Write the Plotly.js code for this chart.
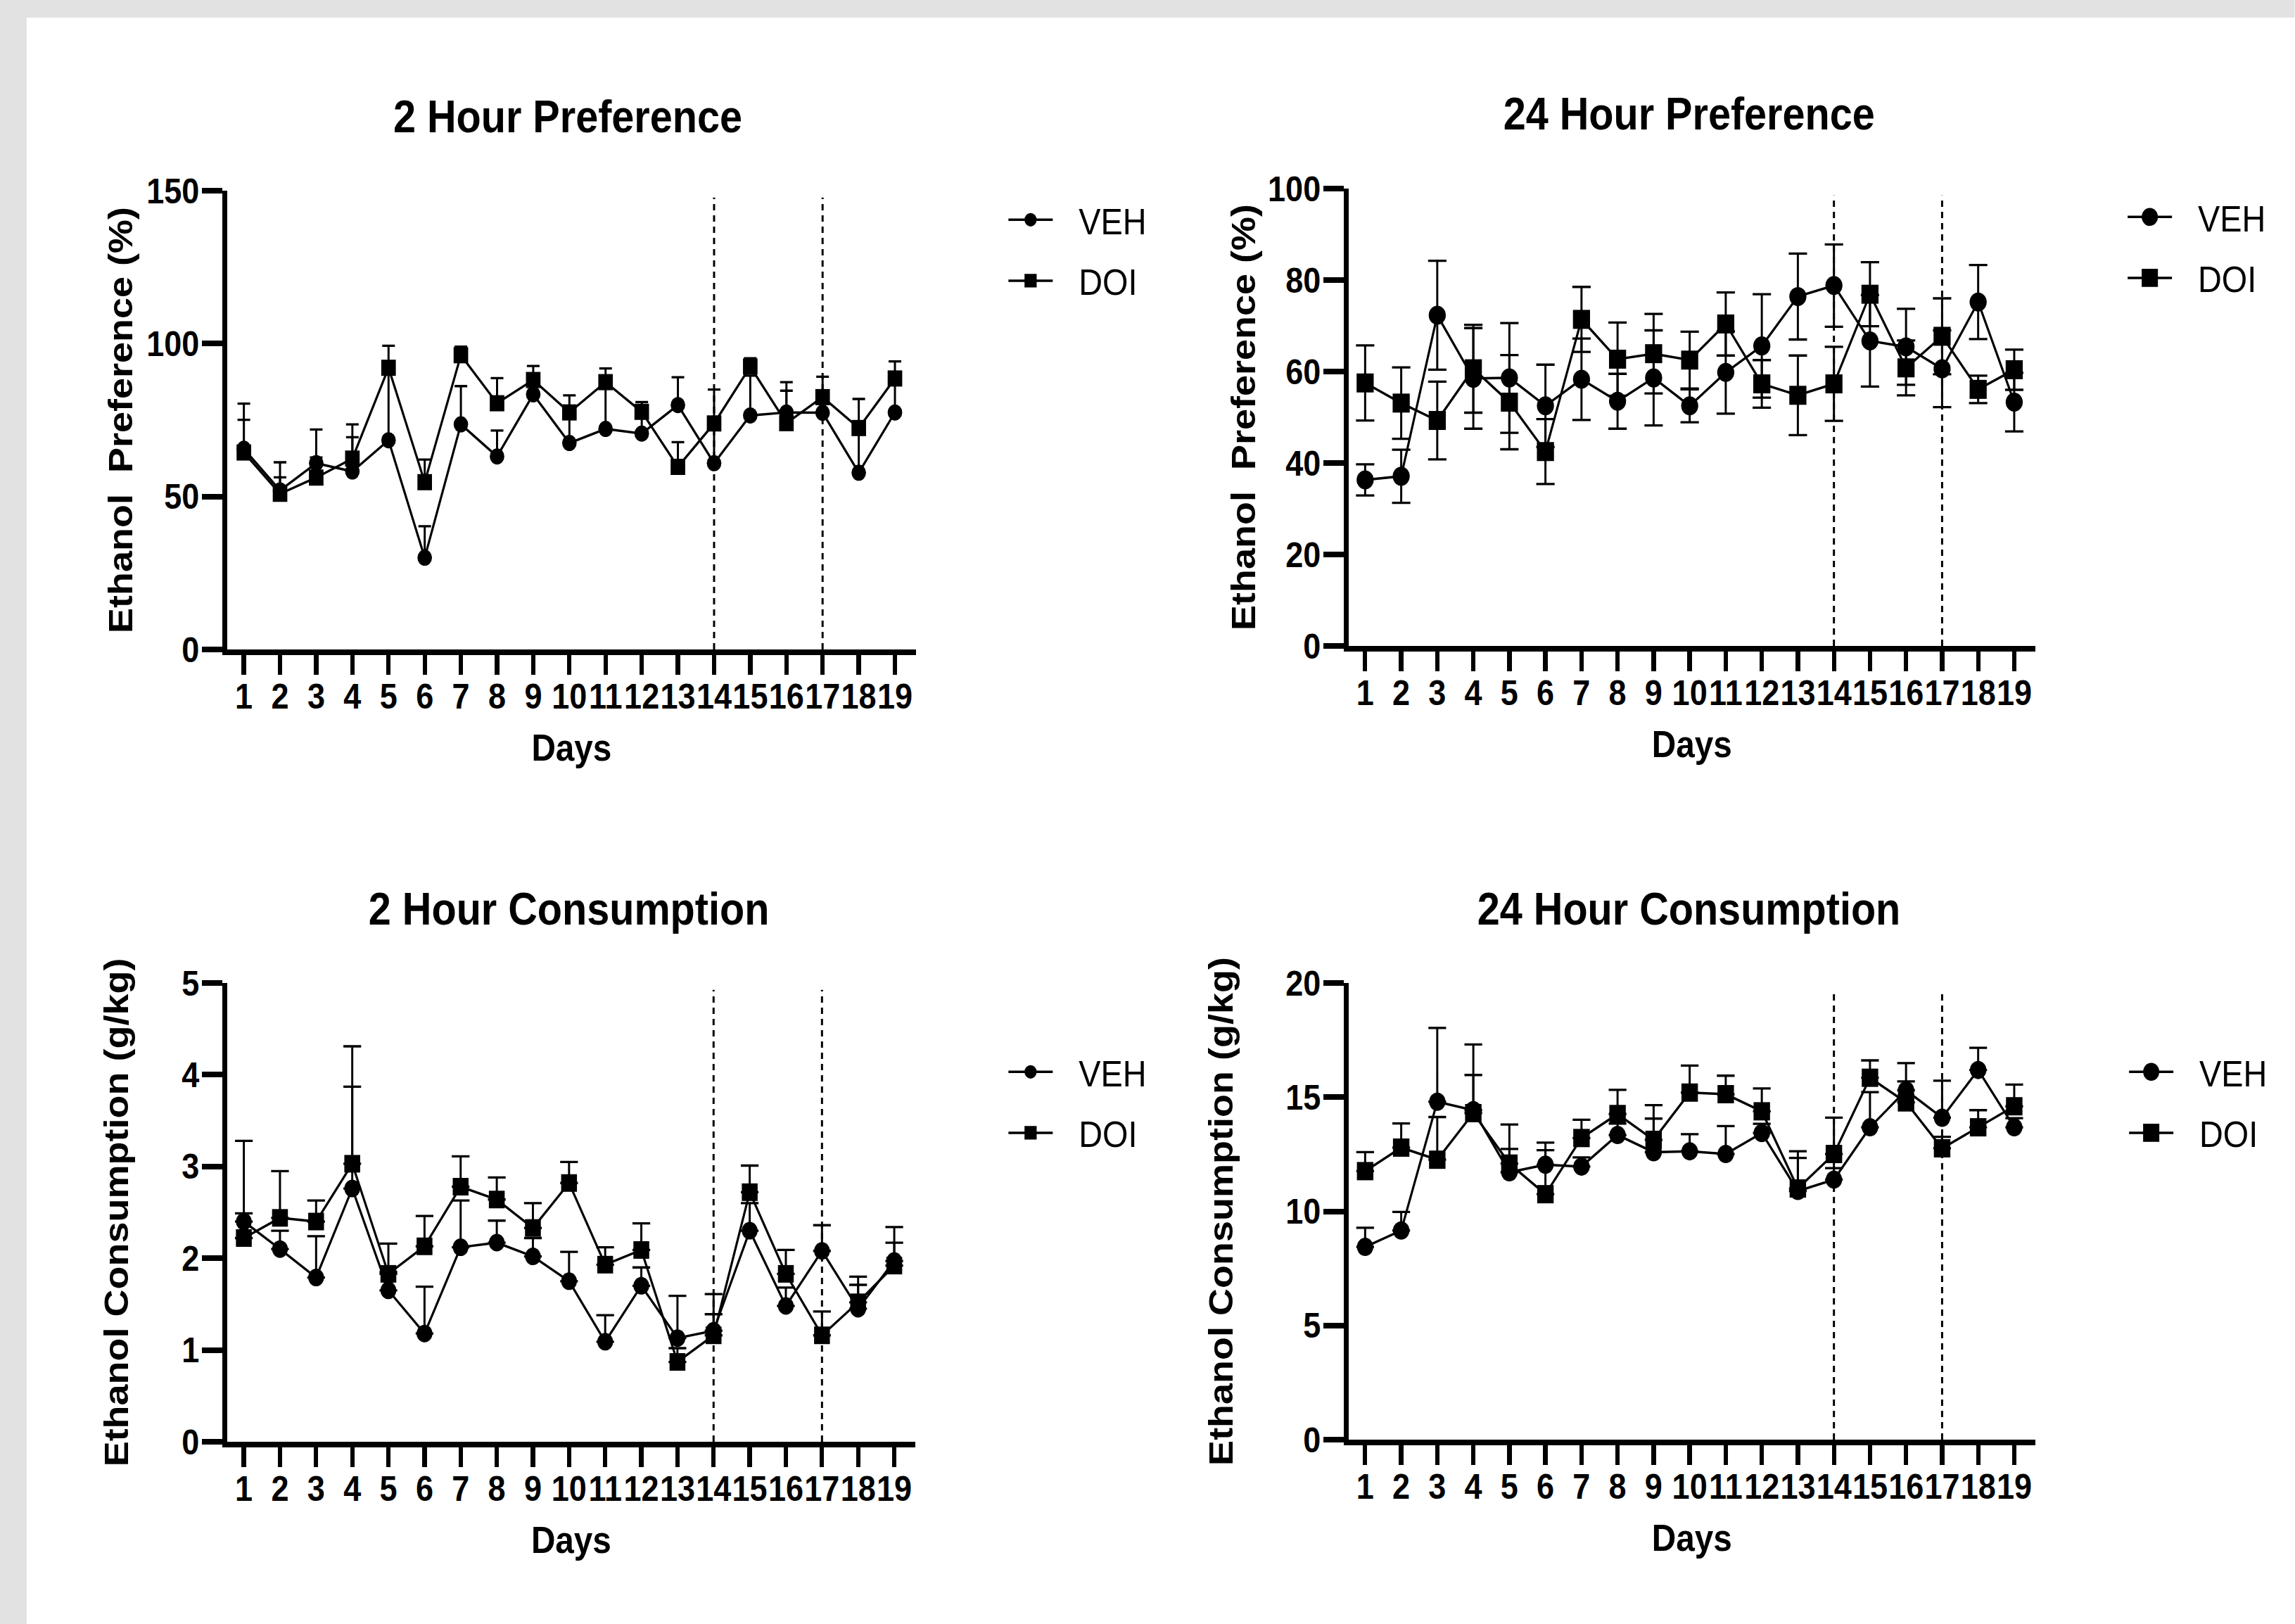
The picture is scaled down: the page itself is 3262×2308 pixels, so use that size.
<!DOCTYPE html>
<html>
<head>
<meta charset="utf-8">
<script src="https://cdn.plot.ly/plotly-3.0.1.min.js"></script>
<style>
  html, body { margin: 0; padding: 0; background: #ffffff; overflow: hidden; width: 3262px; height: 2308px; }
  #chart { height: 2308px; transform-origin: 0 0; }
</style>
</head>
<body>
<div id="chart"></div>
<script>
// ---------------- DATA ----------------
const days = [1, 2, 3, 4, 5, 6, 7, 8, 9, 10, 11, 12, 13, 14, 15, 16, 17, 18, 19];
const dayLabels = ['1', '2', '3', '4', '5', '6', '7', '8', '9', '10', '11', '12', '13', '14', '15', '16', '17', '18', '19'];
const seriesNames = ['VEH', 'DOI'];
const phaseDays = [14, 17];

// 2 Hour Preference (%), mean and upper SEM
const pref2hVeh    = [65.6, 52.0, 60.9, 58.2, 68.4, 30.0, 73.6, 63.1, 83.4, 67.5, 72.1, 70.6, 79.9, 60.9, 76.5, 77.5, 77.4, 57.8, 77.5];
const pref2hVehSem = [14.8, 4.3, 11.0, 11.2, 21.5, 10.3, 12.5, 8.5, 3.0, 8.0, 14.0, 5.0, 9.1, 12.0, 13.0, 9.9, 5.0, 14.0, 10.0];
const pref2hDoi    = [64.4, 50.9, 56.2, 62.4, 92.1, 54.7, 96.2, 80.5, 88.1, 77.5, 87.4, 77.7, 59.7, 73.9, 92.5, 74.0, 82.5, 72.4, 88.6];
const pref2hDoiSem = [10.7, 10.3, 6.6, 11.2, 7.2, 7.4, 2.8, 8.2, 4.6, 5.6, 4.5, 3.2, 8.1, 11.1, 2.7, 10.6, 6.7, 9.5, 5.6];

// 24 Hour Preference (%), mean and SEM (both directions)
const pref24hVeh    = [36.3, 37.1, 72.3, 58.5, 58.6, 52.5, 58.3, 53.5, 58.6, 52.5, 59.8, 65.6, 76.4, 78.8, 66.7, 65.4, 60.6, 75.2, 53.3];
const pref24hVehSem = [3.4, 5.8, 11.9, 11.0, 12.0, 9.0, 8.9, 6.0, 10.4, 3.6, 9.0, 11.3, 9.4, 9.0, 10.0, 8.3, 8.4, 8.1, 6.4];
const pref24hDoi    = [57.5, 53.1, 49.3, 60.6, 53.3, 42.5, 71.4, 62.7, 63.9, 62.5, 70.4, 57.3, 54.8, 57.3, 76.9, 60.8, 67.7, 56.1, 60.4];
const pref24hDoiSem = [8.2, 7.8, 8.5, 9.6, 10.3, 7.1, 7.1, 8.0, 8.7, 6.2, 6.9, 5.2, 8.7, 8.1, 7.0, 6.0, 8.3, 3.0, 4.4];

// 2 Hour Consumption (g/kg), mean and upper SEM
const cons2hVeh    = [2.40, 2.10, 1.79, 2.76, 1.65, 1.18, 2.12, 2.17, 2.02, 1.75, 1.09, 1.70, 1.13, 1.21, 2.30, 1.48, 2.08, 1.45, 1.97];
const cons2hVehSem = [0.88, 0.20, 0.45, 1.11, 0.20, 0.51, 0.51, 0.24, 0.20, 0.32, 0.29, 0.20, 0.46, 0.40, 0.30, 0.20, 0.28, 0.26, 0.20];
const cons2hDoi    = [2.22, 2.44, 2.40, 3.03, 1.83, 2.13, 2.78, 2.64, 2.33, 2.82, 1.93, 2.09, 0.87, 1.16, 2.72, 1.83, 1.16, 1.52, 1.92];
const cons2hDoiSem = [0.27, 0.51, 0.23, 1.28, 0.33, 0.33, 0.33, 0.24, 0.27, 0.23, 0.19, 0.29, 0.15, 0.23, 0.29, 0.26, 0.26, 0.28, 0.42];

// 24 Hour Consumption (g/kg), mean and upper SEM
const cons24hVeh    = [8.44, 9.16, 14.80, 14.43, 11.71, 12.04, 11.96, 13.34, 12.59, 12.63, 12.51, 13.43, 10.89, 11.39, 13.68, 15.30, 14.10, 16.19, 13.68];
const cons24hVehSem = [0.84, 0.81, 3.23, 1.54, 1.02, 0.97, 0.40, 0.50, 1.47, 0.75, 1.22, 0.40, 1.45, 0.50, 1.54, 1.19, 1.62, 0.97, 0.40];
const cons24hDoi    = [11.76, 12.79, 12.26, 14.30, 12.09, 10.75, 13.21, 14.26, 13.13, 15.20, 15.13, 14.38, 11.00, 12.51, 15.85, 14.77, 12.76, 13.68, 14.60];
const cons24hDoiSem = [0.83, 1.06, 1.87, 3.01, 1.71, 1.93, 0.80, 1.06, 1.52, 1.18, 0.81, 1.00, 1.63, 1.59, 0.76, 0.92, 0.50, 0.75, 0.95];

const panelTitles = ['2 Hour Preference', '24 Hour Preference', '2 Hour Consumption', '24 Hour Consumption'];
const yTitles = ['Ethanol  Preference (%)', 'Ethanol  Preference (%)', 'Ethanol Consumption (g/kg)', 'Ethanol Consumption (g/kg)'];
const yTicks = [[0, 50, 100, 150], [0, 20, 40, 60, 80, 100], [0, 1, 2, 3, 4, 5], [0, 5, 10, 15, 20]];
const yMax = [150, 100, 5, 20];

// ---------------- STYLE ----------------
// The original figure is horizontally condensed; the page is drawn wider and squeezed with scaleX.
const SX = 0.9;
const W = 3262, H = 2308;
const WPRE = W / SX;
const chartDiv = document.getElementById('chart');
chartDiv.style.width = WPRE + 'px';
chartDiv.style.transform = 'scaleX(' + SX + ')';

const FW = '"Liberation Sans", Arial, Helvetica, sans-serif';
const BLACK = '#000000';

function makeTrace(name, y, err, symmetric, axisIdx, symbol, msize, capw, legendName, group) {
  const errY = symmetric
    ? { type: 'data', array: err, symmetric: true, color: BLACK, thickness: 3.3, width: capw }
    : { type: 'data', array: err, arrayminus: err.map(() => 0), symmetric: false, color: BLACK, thickness: 3.3, width: capw };
  return {
    type: 'scatter', mode: 'lines+markers', name: name,
    x: days, y: y,
    xaxis: axisIdx === 1 ? 'x' : 'x' + axisIdx,
    yaxis: axisIdx === 1 ? 'y' : 'y' + axisIdx,
    line: { color: BLACK, width: 3.5 },
    marker: { symbol: symbol, size: msize, color: BLACK, line: { width: 0 } },
    error_y: errY,
    legend: legendName, legendgroup: group + axisIdx,
    cliponaxis: false
  };
}

const traces = [
  makeTrace(seriesNames[0], pref2hVeh, pref2hVehSem, false, 1, 'circle', 23, 10, 'legend', 'a'),
  makeTrace(seriesNames[1], pref2hDoi, pref2hDoiSem, false, 1, 'square', 23, 10, 'legend', 'b'),
  makeTrace(seriesNames[0], pref24hVeh, pref24hVehSem, true, 2, 'circle', 27, 14.5, 'legend2', 'a'),
  makeTrace(seriesNames[1], pref24hDoi, pref24hDoiSem, true, 2, 'square', 27, 14.5, 'legend2', 'b'),
  makeTrace(seriesNames[0], cons2hVeh, cons2hVehSem, false, 3, 'circle', 25, 14, 'legend3', 'a'),
  makeTrace(seriesNames[1], cons2hDoi, cons2hDoiSem, false, 3, 'square', 25, 14, 'legend3', 'b'),
  makeTrace(seriesNames[0], cons24hVeh, cons24hVehSem, false, 4, 'circle', 26, 14, 'legend4', 'a'),
  makeTrace(seriesNames[1], cons24hDoi, cons24hDoiSem, false, 4, 'square', 26, 14, 'legend4', 'b')
];

// pixel boxes (final picture) of the four plot areas [left, right, top, bottom]
const boxes = [
  [323, 1302, 271, 923],
  [1917, 2893, 268, 918],
  [323, 1301, 1397, 2049],
  [1917, 2893, 1397, 2046]
];
const yStandoff = [8, 5, 70, 69];

function xAxis(i) {
  const b = boxes[i];
  return {
    domain: [b[0] / W, b[1] / W], anchor: i === 0 ? 'y' : 'y' + (i + 1),
    range: [0.54, 19.58], tickmode: 'array', tickvals: days, ticktext: dayLabels, tickangle: 0,
    showline: true, linewidth: 8, linecolor: BLACK,
    ticks: 'outside', ticklen: 28, tickwidth: 7, tickcolor: BLACK, ticklabelstandoff: -12,
    showgrid: false, zeroline: false, fixedrange: true,
    tickfont: { family: FW, size: 50, color: BLACK, weight: 700 },
    title: { text: 'Days', font: { family: FW, size: 53, color: BLACK, weight: 700 }, standoff: 30 }
  };
}
function yAxis(i) {
  const b = boxes[i];
  return {
    domain: [1 - b[3] / H, 1 - b[2] / H], anchor: i === 0 ? 'x' : 'x' + (i + 1),
    range: [0, yMax[i]], tickmode: 'array', tickvals: yTicks[i], ticktext: yTicks[i].map(String),
    showline: true, linewidth: 8, linecolor: BLACK,
    ticks: 'outside', ticklen: 32, tickwidth: 8, tickcolor: BLACK, ticklabelstandoff: -6,
    showgrid: false, zeroline: false, fixedrange: true,
    tickfont: { family: FW, size: 50, color: BLACK, weight: 700 },
    title: { text: yTitles[i], font: { family: FW, size: 54, color: BLACK, weight: 700 }, standoff: yStandoff[i] }
  };
}

const layout = {
  width: WPRE, height: H,
  margin: { l: 0, r: 0, t: 0, b: 0, pad: 0 },
  paper_bgcolor: '#ffffff', plot_bgcolor: 'rgba(0,0,0,0)',
  showlegend: true,
  annotations: [],
  shapes: [
    // grey page frame (left and top bands)
    { type: 'rect', xref: 'paper', yref: 'paper', x0: 0, x1: 38 / W, y0: 0, y1: 1, fillcolor: '#e2e2e2', line: { width: 0 }, layer: 'below' },
    { type: 'rect', xref: 'paper', yref: 'paper', x0: 0, x1: 1, y0: 1 - 25 / H, y1: 1, fillcolor: '#e2e2e2', line: { width: 0 }, layer: 'below' }
  ]
};

const titlePos = [[807, 166], [2401, 162], [809, 1292], [2401, 1292]];
// legend: [marker centre x, top y] in final pixels
const legendPos = [[1465, 272], [3056, 268], [1465, 1483], [3058, 1483]];
const ITEMW = 142;
const CENTER = ITEMW / 2 + 5;
for (let i = 0; i < 4; i++) {
  const k = i === 0 ? '' : String(i + 1);
  layout['xaxis' + k] = xAxis(i);
  layout['yaxis' + k] = yAxis(i);
  layout.annotations.push({
    text: panelTitles[i], xref: 'paper', yref: 'paper',
    x: titlePos[i][0] / W, y: 1 - titlePos[i][1] / H, xanchor: 'center', yanchor: 'middle',
    showarrow: false, font: { family: FW, size: 64, color: BLACK, weight: 700 }
  });
  phaseDays.forEach(d => {
    layout.shapes.push({
      type: 'line', xref: i === 0 ? 'x' : 'x' + (i + 1), yref: (i === 0 ? 'y' : 'y' + (i + 1)) + ' domain',
      x0: d, x1: d, y0: 0, y1: 0.985,
      line: { color: BLACK, width: 3.3, dash: '9px,7px' }
    });
  });
  layout['legend' + k] = {
    x: (legendPos[i][0] - CENTER * SX) / W, y: 1 - legendPos[i][1] / H, xanchor: 'left', yanchor: 'top',
    bgcolor: 'rgba(0,0,0,0)', borderwidth: 0,
    font: { family: FW, size: 52, color: BLACK },
    traceorder: 'grouped', tracegroupgap: 16, itemwidth: ITEMW, itemsizing: 'trace'
  };
}

Plotly.newPlot(chartDiv, traces, layout, { staticPlot: true, displayModeBar: false }).then(function () {
  // legend symbols: a 70px line centred on a larger marker, as in the original figure
  const legendMarkerScale = { legend: 1.2, legend2: 1.6, legend3: 1.2, legend4: 1.6 };
  Object.keys(legendMarkerScale).forEach(function (cls) {
    const lg = chartDiv.querySelector('g.' + cls);
    if (!lg) return;
    lg.querySelectorAll('g.legendlines path').forEach(function (p) {
      p.setAttribute('d', 'M' + (CENTER - 35) + ',0h70');
    });
    lg.querySelectorAll('g.legendsymbols path.scatterpts').forEach(function (p) {
      const t = p.getAttribute('transform') || '';
      p.setAttribute('transform', t + ' scale(' + legendMarkerScale[cls] + ')');
    });
  });
});
</script>
</body>
</html>
